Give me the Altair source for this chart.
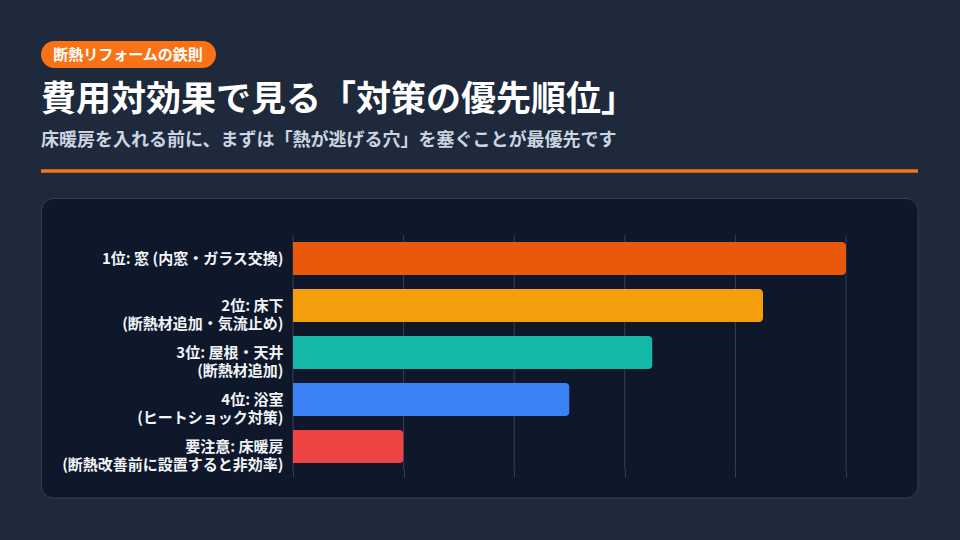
import altair as alt
import pandas as pd

# ---- data ----
labels = [
    "1位: 窓 (内窓・ガラス交換)",
    "2位: 床下\n(断熱材追加・気流止め)",
    "3位: 屋根・天井\n(断熱材追加)",
    "4位: 浴室\n(ヒートショック対策)",
    "要注意: 床暖房\n(断熱改善前に設置すると非効率)",
]
values = [100, 85, 65, 50, 20]
bar_colors = ["#ea580c", "#f59e0b", "#14b8a6", "#3b82f6", "#ef4444"]
tick_values = [0, 20, 40, 60, 80, 100]

badge_text = "断熱リフォームの鉄則"
title_text = "費用対効果で見る「対策の優先順位」"
subtitle_text = "床暖房を入れる前に、まずは「熱が逃げる穴」を塞ぐことが最優先です"

FONT = "Noto Sans CJK JP"
W, H = 553, 235
OX, OY = 293, 235  # plot origin in page pixels

bars_df = pd.DataFrame({"label": labels, "value": values})
ticks_df = pd.DataFrame({"t": tick_values})
one = pd.DataFrame({"a": [0]})

xscale = alt.Scale(domain=[0, 100], nice=False)

panel = alt.Chart(one).mark_rect(
    fill="#0f172a", stroke="#334155", strokeWidth=1, cornerRadius=12
).encode(
    x=alt.value(41.5 - OX), x2=alt.value(918 - OX),
    y=alt.value(198.5 - OY), y2=alt.value(498 - OY),
)

grid = alt.Chart(ticks_df).mark_rule(color="#334155", strokeWidth=1).encode(
    x=alt.X("t:Q", scale=xscale,
            axis=alt.Axis(grid=False, labels=False, domain=False, ticks=True,
                          tickSize=7, tickColor="#334155", values=tick_values,
                          title=None, zindex=1)),
    y=alt.value(0), y2=alt.value(H),
)

bars = alt.Chart(bars_df).mark_bar(cornerRadiusEnd=4).encode(
    x=alt.X("value:Q", scale=xscale, title=None),
    y=alt.Y("label:N", sort=None, title=None,
            scale=alt.Scale(paddingInner=0.3, paddingOuter=0.15),
            axis=alt.Axis(labelExpr="split(datum.label, '\\n')", ticks=False,
                          domain=False, grid=False, labelFont=FONT,
                          labelFontSize=15, labelFontWeight="bold",
                          labelColor="#f1f5f9", labelPadding=10,
                          labelLineHeight=18, labelLimit=400, zindex=1)),
    color=alt.Color("label:N", sort=None,
                    scale=alt.Scale(domain=labels, range=bar_colors),
                    legend=None),
)

badge = alt.Chart(one).mark_rect(fill="#f97316", cornerRadius=13.5).encode(
    x=alt.value(41 - OX), x2=alt.value(216 - OX),
    y=alt.value(41 - OY), y2=alt.value(68 - OY),
)
badge_t = alt.Chart(pd.DataFrame({"s": [badge_text]})).mark_text(
    font=FONT, fontSize=15, fontWeight="bold", color="#ffffff",
    align="center", baseline="middle",
).encode(x=alt.value(128 - OX), y=alt.value(55 - OY), text="s:N")

title_t = alt.Chart(pd.DataFrame({"s": [title_text]})).mark_text(
    font=FONT, fontSize=35, fontWeight="bold", color="#ffffff",
    align="left", baseline="middle",
).encode(x=alt.value(41 - OX), y=alt.value(100 - OY), text="s:N")

sub_t = alt.Chart(pd.DataFrame({"s": [subtitle_text]})).mark_text(
    font=FONT, fontSize=18, fontWeight="bold", color="#cbd5e1",
    align="left", baseline="middle",
).encode(x=alt.value(41 - OX), y=alt.value(141 - OY), text="s:N")

line = alt.Chart(one).mark_rule(color="#f97316", strokeWidth=3.5).encode(
    x=alt.value(41 - OX), x2=alt.value(918 - OX), y=alt.value(171 - OY),
)

chart = alt.layer(panel, grid, bars, badge, badge_t, title_t, sub_t, line).properties(
    width=W, height=H,
    autosize=alt.AutoSizeParams(type="none"),
    padding={"left": OX, "top": OY, "right": 960 - OX - W, "bottom": 540 - OY - H},
    background="#1e293b",
).configure_view(stroke=None)

chart.save("out.html", embed_options={"renderer": "svg", "actions": False})
